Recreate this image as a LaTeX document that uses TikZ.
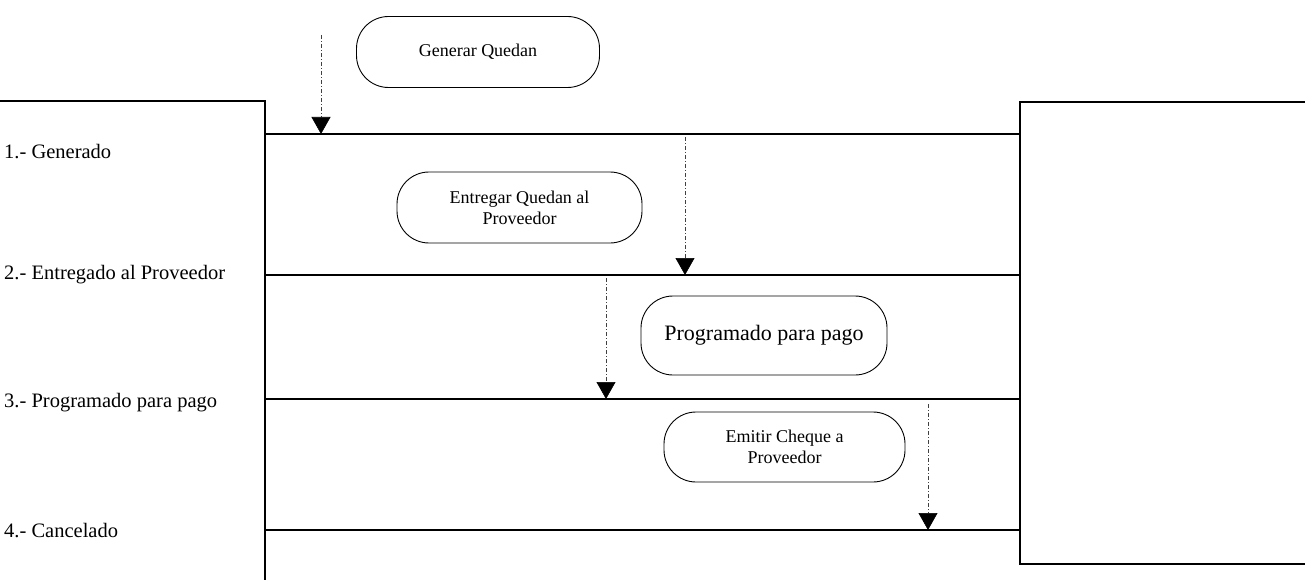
\documentclass[tikz,border=0pt]{standalone}
\usepackage{fontspec}
\setmainfont{Liberation Serif}
\usetikzlibrary{arrows.meta}
\begin{document}
\begin{tikzpicture}[x=1pt,y=-1pt,
  frame/.style={line width=1.2pt},
  lane/.style={line width=1.3pt},
  activity/.style={draw, line width=0.9pt, rounded corners=32pt,
    minimum width=243pt, minimum height=71pt, align=center,
    font=\fontsize{18}{21}\selectfont, inner sep=0pt},
  flow/.style={line width=0.6pt, draw=black!75,
    dash pattern=on 4pt off 2pt on 1pt off 2pt,
    -{Triangle[width=19pt,length=17pt,color=black]}},
  state/.style={anchor=base west, inner sep=0pt,
    font=\fontsize{20.5}{24}\selectfont}]
\useasboundingbox (0,0) rectangle (1305,580);

% side frames of the state column and the right column
\draw[frame] (0,101) -- (265,101) -- (265,580);
\draw[frame] (1305,102) -- (1020,102) -- (1020,564) -- (1305,564);

% state lanes
\foreach \n/\y in {1/134,2/275,3/399,4/530}{
  \coordinate (l\n w) at (265,\y);
  \coordinate (l\n e) at (1020,\y);
  \draw[lane] (l\n w) -- (l\n e);
}

% state names
\node[state] (s1) at (4,159) {1.- Generado};
\node[state] (s2) at (4,279) {2.- Entregado al Proveedor};
\node[state] (s3) at (4,407) {3.- Programado para pago};
\node[state] (s4) at (4,537) {4.- Cancelado};

% activities
\node[activity] (gq) at (478,52) {Generar Quedan};
\node[activity, minimum width=245pt] (eq) at (519.5,207.5) {Entregar Quedan al\\Proveedor};
\node[activity, minimum width=246pt, minimum height=79pt,
  font=\fontsize{22}{26}\selectfont] (pp) at (764,335.5) {Programado para pago};
\node[activity, minimum width=241pt, minimum height=70pt] (ec) at (784.5,447) {Emitir Cheque a\\Proveedor};

% transitions into each state
\coordinate (t1s) at (321,35);
\coordinate (t1e) at (321,134);
\coordinate (t2s) at (685,137);
\coordinate (t2e) at (685,275);
\coordinate (t3s) at (606,278);
\coordinate (t3e) at (606,399);
\coordinate (t4s) at (928,404);
\coordinate (t4e) at (928,530);
\draw[flow] (t1s) -- (t1e);
\draw[flow] (t2s) -- (t2e);
\draw[flow] (t3s) -- (t3e);
\draw[flow] (t4s) -- (t4e);
\end{tikzpicture}
\end{document}
